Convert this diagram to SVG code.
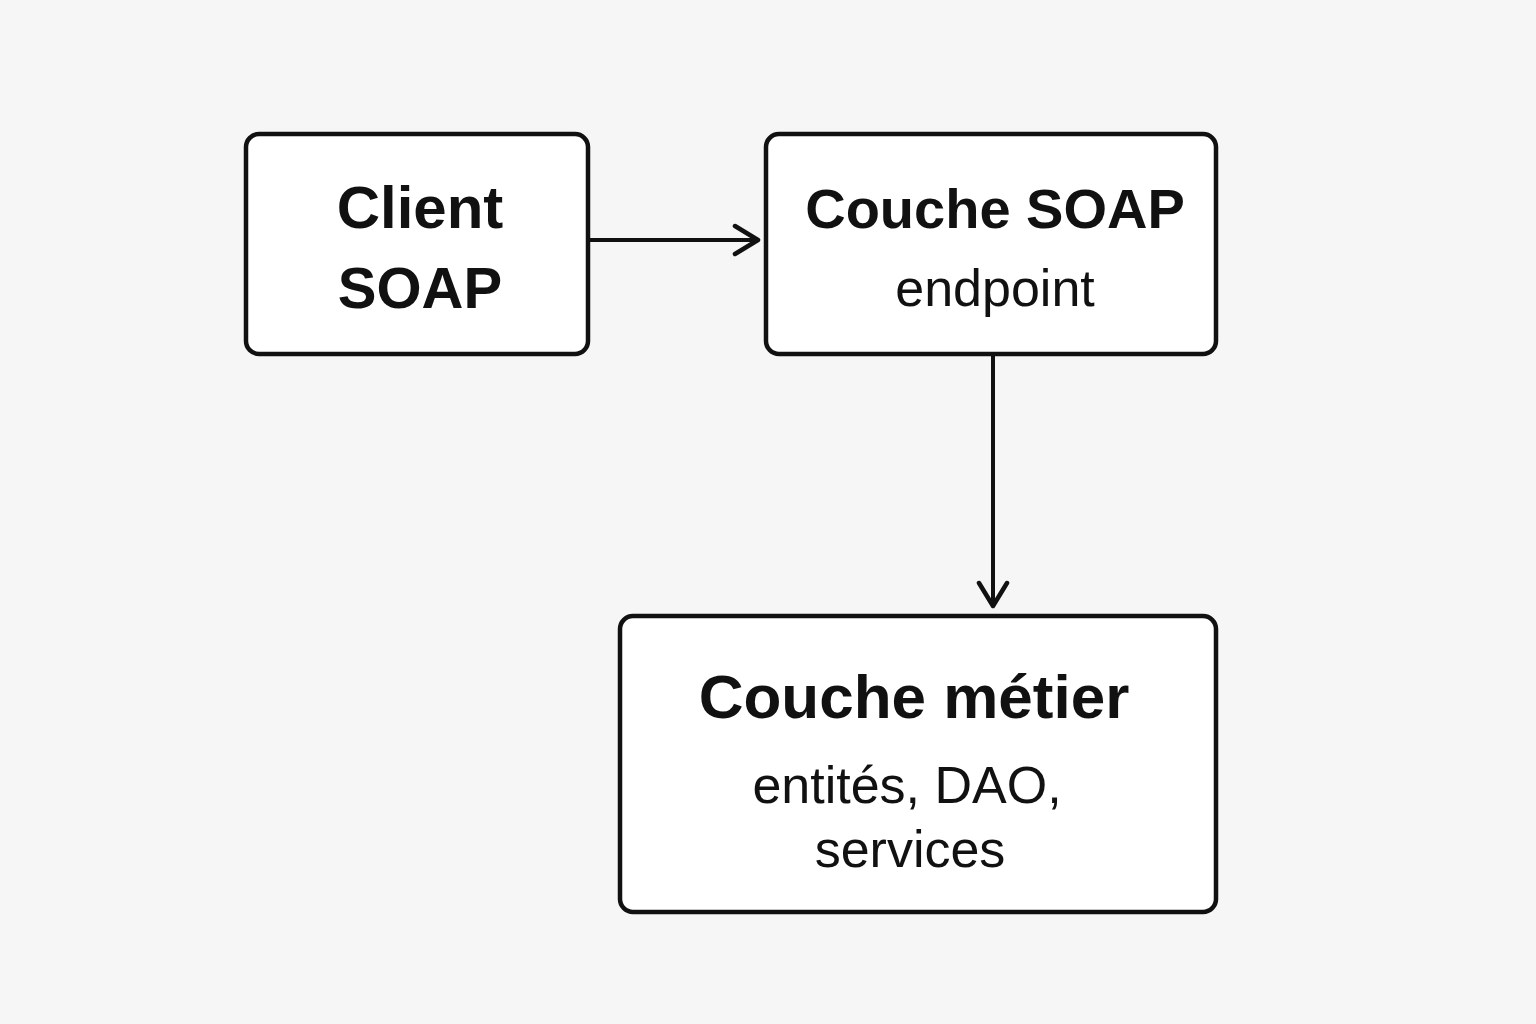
<svg xmlns="http://www.w3.org/2000/svg" width="1536" height="1024" viewBox="0 0 1536 1024">
<defs>
<style>
.box{fill:#fff;stroke:#111;stroke-width:4.5}
.t{font-family:"Liberation Sans",Arial,sans-serif;fill:#111;text-anchor:middle}
.b{font-weight:bold}
.edge{stroke:#111;stroke-width:4;fill:none}
</style>
<marker id="arr" markerWidth="32" markerHeight="34" refX="27" refY="17" orient="auto" markerUnits="userSpaceOnUse">
<path d="M4,3 L27,17 L4,31" fill="none" stroke="#111" stroke-width="4.5" stroke-linecap="round" stroke-linejoin="round"/>
</marker>
</defs>
<rect width="1536" height="1024" fill="#f6f6f6"/>
<g id="connectors">
<line class="edge" x1="590" y1="240" x2="758" y2="240" marker-end="url(#arr)"/>
<line class="edge" x1="993" y1="354" x2="993" y2="606" marker-end="url(#arr)"/>
</g>
<g id="client">
<rect class="box" x="246" y="134" width="342" height="220" rx="13"/>
<text class="t b" x="420" y="228" font-size="60">Client</text>
<text class="t b" x="420" y="308" font-size="58">SOAP</text>
</g>
<g id="couche-soap">
<rect class="box" x="766" y="134" width="450" height="220" rx="13"/>
<text class="t b" x="995" y="228" font-size="56">Couche SOAP</text>
<text class="t" x="995" y="306" font-size="52">endpoint</text>
</g>
<g id="couche-metier">
<rect class="box" x="620" y="616" width="596" height="296" rx="13"/>
<text class="t b" x="914" y="718" font-size="62">Couche métier</text>
<text class="t" x="907" y="803" font-size="52">entités, DAO,</text>
<text class="t" x="910" y="867" font-size="52">services</text>
</g>
</svg>
